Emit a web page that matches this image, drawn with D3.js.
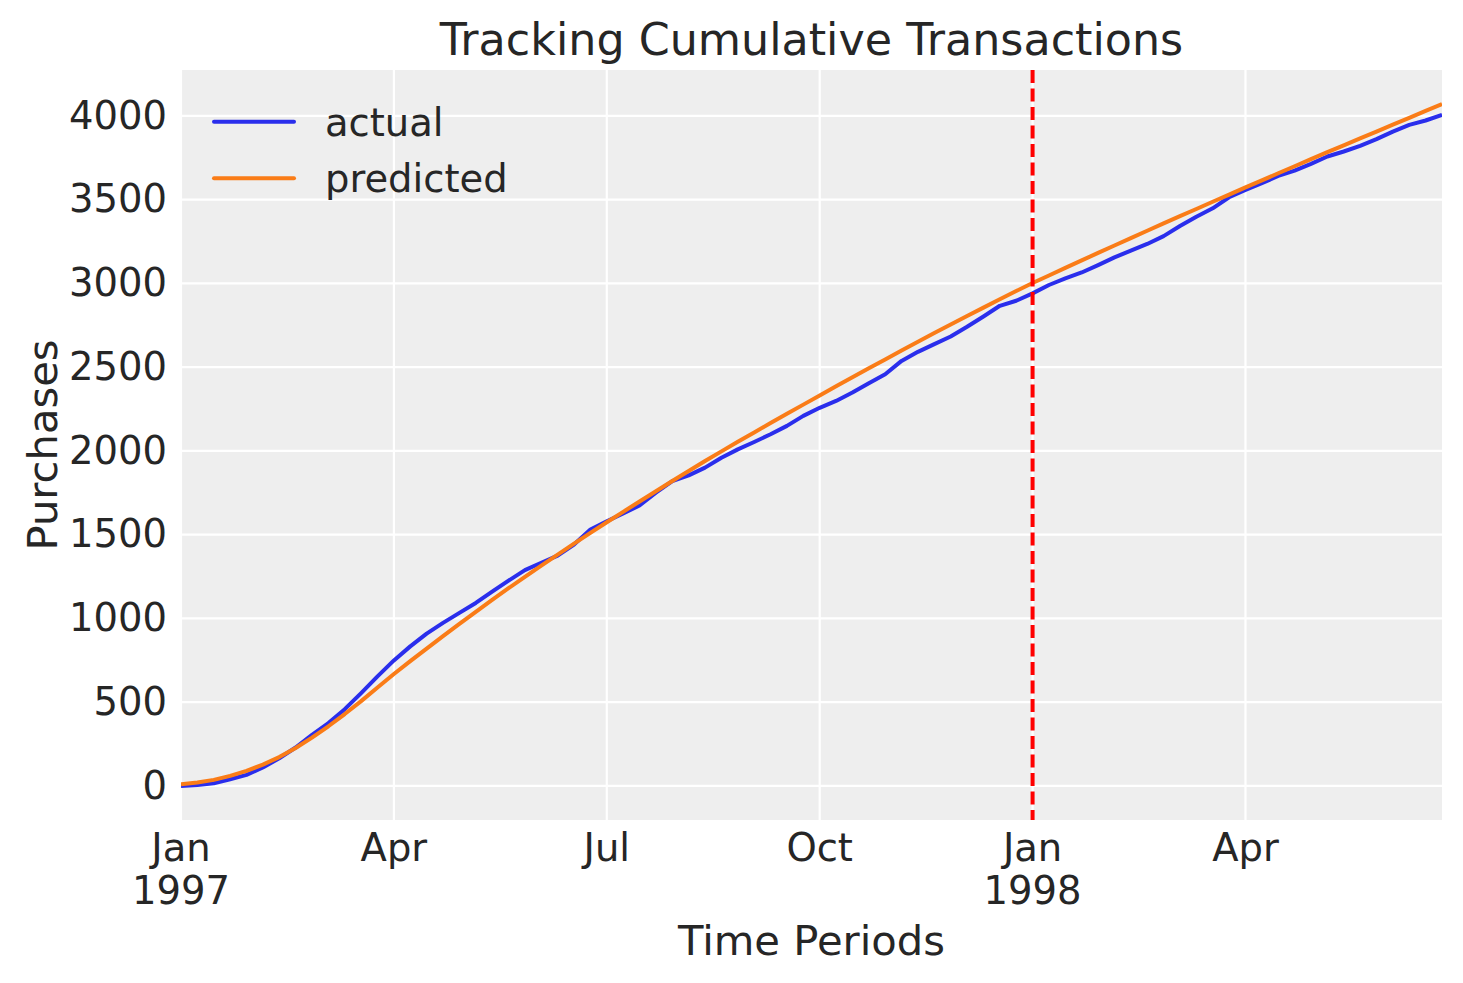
<!DOCTYPE html>
<html>
<head>
<meta charset="utf-8">
<script src="https://cdn.jsdelivr.net/npm/d3@7"></script>
<style>
  html, body { margin: 0; padding: 0; background: #ffffff; }
  svg { display: block; font-family: "DejaVu Sans", sans-serif; }
</style>
</head>
<body>
<svg id="chart" width="1463" height="983"></svg>
<script>
// ---- data (weekly periods starting Jan 1997) ----
const weeks = d3.range(78);
const actual = [0, 6, 16, 40, 66, 110, 165, 229, 305, 375,
  458, 554, 654, 749, 833, 909, 973, 1033, 1092, 1160,
  1225, 1288, 1332, 1375, 1441, 1531, 1580, 1626, 1674, 1750,
  1820, 1854, 1900, 1959, 2009, 2053, 2099, 2149, 2209, 2257,
  2298, 2348, 2404, 2457, 2537, 2591, 2637, 2683, 2741, 2802,
  2866, 2896, 2940, 2990, 3030, 3065, 3109, 3155, 3195, 3235,
  3282, 3342, 3398, 3448, 3514, 3557, 3598, 3641, 3673, 3713,
  3757, 3787, 3821, 3861, 3906, 3946, 3972, 4006];
const predicted = [10, 20, 36, 60, 90, 127, 172, 226, 288, 356,
  429, 506, 587, 668, 745, 820, 894, 967, 1039, 1110,
  1180, 1248, 1315, 1381, 1446, 1510, 1574, 1636, 1698, 1759,
  1820, 1880, 1939, 1997, 2054, 2110, 2166, 2221, 2276, 2330,
  2385, 2439, 2493, 2546, 2599, 2651, 2703, 2754, 2805, 2855,
  2905, 2954, 3002, 3047, 3092, 3137, 3182, 3226, 3270, 3314,
  3358, 3401, 3444, 3487, 3530, 3573, 3615, 3657, 3699, 3741,
  3783, 3824, 3865, 3906, 3947, 3988, 4029, 4070];
const xTickWeeks = [0, 13, 26, 39, 52, 65];
const xTickLabels = [["Jan", "1997"], ["Apr"], ["Jul"], ["Oct"], ["Jan", "1998"], ["Apr"]];
const yTicks = [0, 500, 1000, 1500, 2000, 2500, 3000, 3500, 4000];
const calibrationEndWeek = 52;
const seriesNames = ["actual", "predicted"];

// ---- layout ----
const svg = d3.select("#chart");
const mLeft = 181, mRight = 1442, mTop = 70, mBottom = 820;
const textColor = "#262626";
const colors = { actual: "#2a2eec", predicted: "#fa7c17" };

const x = d3.scaleLinear().domain(d3.extent(weeks)).range([mLeft, mRight]);
const allVals = actual.concat(predicted);
const yMin = d3.min(allVals), yMax = d3.max(allVals), pad = (yMax - yMin) * 0.05;
const y = d3.scaleLinear().domain([yMin - pad, yMax + pad]).range([mBottom, mTop]);

// background
svg.append("rect").attr("x", mLeft).attr("y", mTop)
  .attr("width", mRight - mLeft).attr("height", mBottom - mTop).attr("fill", "#eeeeee");

// grid
const g = svg.append("g");
g.selectAll("line.hg").data(yTicks).join("line")
  .attr("x1", mLeft).attr("x2", mRight)
  .attr("y1", d => y(d)).attr("y2", d => y(d))
  .attr("stroke", "#ffffff").attr("stroke-width", 2.2);
g.selectAll("line.vg").data(xTickWeeks).join("line")
  .attr("y1", mTop).attr("y2", mBottom)
  .attr("x1", d => x(d)).attr("x2", d => x(d))
  .attr("stroke", "#ffffff").attr("stroke-width", 2.2);

// y axis tick labels
const yAxis = d3.axisLeft(y).tickValues(yTicks).tickFormat(d3.format("d")).tickSize(0).tickPadding(14);
const ya = svg.append("g").attr("transform", `translate(${mLeft},0)`).call(yAxis);
ya.select(".domain").remove();
ya.selectAll("text").attr("font-size", 38.5).attr("fill", textColor)
  .attr("font-family", "DejaVu Sans");

// x axis tick labels (multi-line)
const xa = svg.append("g");
xTickWeeks.forEach((w, i) => {
  const t = xa.append("text").attr("x", x(w)).attr("y", 861)
    .attr("text-anchor", "middle").attr("font-size", 38.5).attr("fill", textColor);
  xTickLabels[i].forEach((line, j) => {
    t.append("tspan").attr("x", x(w)).attr("dy", j === 0 ? 0 : 43).text(line);
  });
});

// lines
const lineGen = d3.line().x((d, i) => x(weeks[i])).y(d => y(d));
svg.append("clipPath").attr("id", "clip").append("rect")
  .attr("x", mLeft).attr("y", mTop).attr("width", mRight - mLeft).attr("height", mBottom - mTop);
svg.append("path").datum(actual).attr("d", lineGen)
  .attr("fill", "none").attr("stroke", colors.actual).attr("stroke-width", 4)
  .attr("stroke-linejoin", "round").attr("clip-path", "url(#clip)");
svg.append("path").datum(predicted).attr("d", lineGen)
  .attr("fill", "none").attr("stroke", colors.predicted).attr("stroke-width", 4)
  .attr("stroke-linejoin", "round").attr("clip-path", "url(#clip)");

// calibration end marker
svg.append("line").attr("x1", x(calibrationEndWeek)).attr("x2", x(calibrationEndWeek))
  .attr("y1", mTop).attr("y2", mBottom)
  .attr("stroke", "#ff0000").attr("stroke-width", 4)
  .attr("stroke-dasharray", "13,5.5");

// legend
const lg = svg.append("g");
seriesNames.forEach((name, i) => {
  const ly = 121.7 + i * 56.6;
  lg.append("line").attr("x1", 214).attr("x2", 294).attr("y1", ly).attr("y2", ly)
    .attr("stroke", colors[name]).attr("stroke-width", 4).attr("stroke-linecap", "round");
  lg.append("text").attr("x", 325).attr("y", ly + 14).attr("font-size", 38.5)
    .attr("fill", textColor).text(name);
});

// title & labels
svg.append("text").attr("x", (mLeft + mRight) / 2).attr("y", 55)
  .attr("text-anchor", "middle").attr("font-size", 44.4).attr("fill", textColor)
  .text("Tracking Cumulative Transactions");
svg.append("text").attr("x", (mLeft + mRight) / 2).attr("y", 955)
  .attr("text-anchor", "middle").attr("font-size", 41.7).attr("fill", textColor)
  .text("Time Periods");
svg.append("text").attr("transform", `translate(57,${(mTop + mBottom) / 2}) rotate(-90)`)
  .attr("text-anchor", "middle").attr("font-size", 41.7).attr("fill", textColor)
  .text("Purchases");
</script>
</body>
</html>
